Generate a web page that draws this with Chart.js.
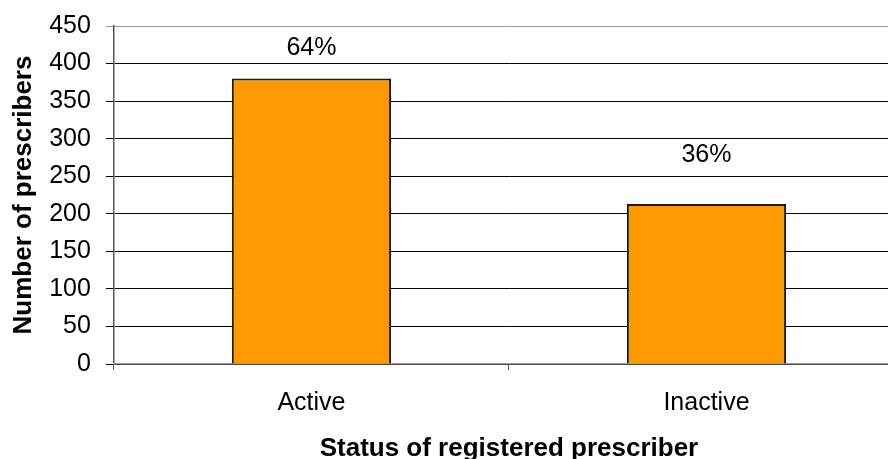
<!DOCTYPE html>
<html>
<head>
<meta charset="utf-8">
<script src="https://cdn.jsdelivr.net/npm/chart.js@4/dist/chart.umd.min.js"></script>
<style>
  html, body { margin: 0; padding: 0; background: #fff; overflow: hidden; }
  #wrap { width: 907px; height: 459px; }
</style>
</head>
<body>
<div id="wrap"><canvas id="chart"></canvas></div>
<script>
// Data
const categories = ['Active', 'Inactive'];
const prescribers = [380, 213];
const shareLabels = ['64%', '36%'];
const yTicks = [0, 50, 100, 150, 200, 250, 300, 350, 400, 450];

const FONT = 'Liberation Sans, Arial, sans-serif';

// percentage labels above the bars (offsets follow the reference placement)
const shareLabelPlugin = {
    id: 'shareLabels',
    afterDatasetsDraw(chart) {
        const ctx = chart.ctx;
        const meta = chart.getDatasetMeta(0);
        const lift = [30, 49];
        ctx.save();
        ctx.font = '25px ' + FONT;
        ctx.fillStyle = '#000';
        ctx.textAlign = 'center';
        ctx.textBaseline = 'middle';
        meta.data.forEach((bar, i) => {
            ctx.fillText(shareLabels[i], bar.x, bar.y - lift[i]);
        });
        ctx.restore();
    }
};

new Chart(document.getElementById('chart'), {
    type: 'bar',
    data: {
        labels: categories,
        datasets: [{
            data: prescribers,
            backgroundColor: '#FF9900',
            borderColor: '#1a1a1a',
            borderWidth: 2,
            categoryPercentage: 1,
            barPercentage: 0.403
        }]
    },
    options: {
        responsive: true,
        maintainAspectRatio: false,
        animation: false,
        devicePixelRatio: 1,
        layout: { padding: { top: 7, left: 2, right: 3, bottom: 0 } },
        plugins: {
            legend: { display: false },
            tooltip: { enabled: false }
        },
        scales: {
            y: {
                min: 0,
                max: 450,
                afterBuildTicks(scale) {
                    scale.ticks = yTicks.map(v => ({ value: v }));
                },
                ticks: {
                    font: { family: FONT, size: 25, lineHeight: 0.88 },
                    color: '#000',
                    padding: 15
                },
                grid: {
                    color: ctx => (ctx.tick && ctx.tick.value === 450 ? '#999' : '#000'),
                    lineWidth: 1,
                    tickLength: 8
                },
                border: { color: '#555', width: 1.5 },
                title: {
                    display: true,
                    text: 'Number of prescribers',
                    font: { family: FONT, size: 26, weight: 'bold', lineHeight: 1.2 },
                    color: '#000',
                    padding: { top: 6, bottom: -5 }
                }
            },
            x: {
                offset: true,
                ticks: {
                    font: { family: FONT, size: 25 },
                    color: '#000',
                    padding: 18
                },
                grid: {
                    offset: true,
                    drawOnChartArea: false,
                    color: '#555',
                    tickLength: 6
                },
                border: { color: '#999', width: 1.5 },
                title: {
                    display: true,
                    text: 'Status of registered prescriber',
                    font: { family: FONT, size: 26, weight: 'bold', lineHeight: 1 },
                    color: '#000',
                    padding: { top: 0, bottom: -3 }
                }
            }
        }
    },
    plugins: [shareLabelPlugin]
});
</script>
</body>
</html>
